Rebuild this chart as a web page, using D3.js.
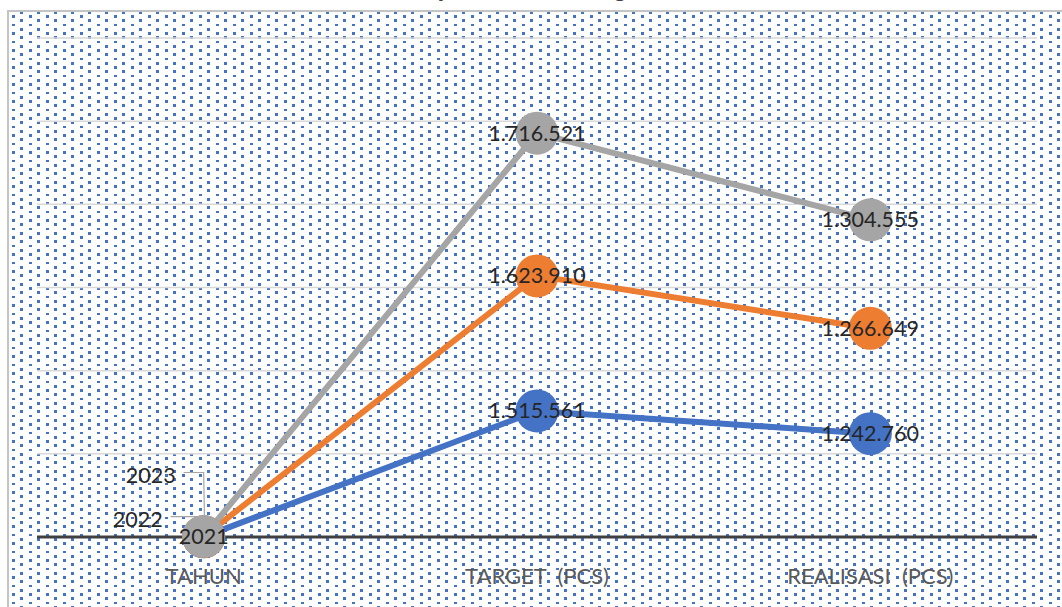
<!DOCTYPE html>
<html lang="id">
<head>
    <meta charset="UTF-8">
    <title>Penjualan Tahun, Target dan Realisasi</title>
    <script src="https://d3js.org/d3.v7.min.js"></script>
    <style>
        body { margin: 0; background: #fff; }
        .cat-label { font-family: Lato, "Noto Sans", sans-serif; font-size: 22px; fill: #595959; }
        .data-label { font-family: Lato, "Noto Sans", sans-serif; font-size: 21.5px; fill: #262626; }
        .title { font-family: Lato, "Noto Sans", sans-serif; font-size: 24px; fill: #404040; }
    </style>
</head>
<body>
<div id="chart"></div>
<script>
    // data (stacked line chart)
    const categories = ["TAHUN", "TARGET\u00a0 (PCS)", "REALISASI\u00a0 (PCS)"];
    const seriesNames = ["2021", "2022", "2023"];
    const values2021 = [2021, 1515561, 1242760];
    const values2022 = [2022, 1623910, 1266649];
    const values2023 = [2023, 1716521, 1304555];
    const yTicks = [0, 1000000, 2000000, 3000000, 4000000, 5000000, 6000000];

    const colors = ["#4472c4", "#ed7d31", "#a5a5a5"];

    const width = 1062, height = 607;
    const plot = { left: 37, right: 1037, top: 38, bottom: 537 };

    const svg = d3.select("#chart").append("svg")
        .attr("width", width)
        .attr("height", height);

    // dotted background pattern
    const defs = svg.append("defs");
    const pat = defs.append("pattern")
        .attr("id", "dots")
        .attr("patternUnits", "userSpaceOnUse")
        .attr("x", 12).attr("y", 15)
        .attr("width", 17).attr("height", 17);
    const dot = (px, py, w, h) => pat.append("rect")
        .attr("x", px).attr("y", py).attr("width", w).attr("height", h)
        .attr("fill", "#4472c4").attr("shape-rendering", "crispEdges");
    dot(0, 0, 3, 3);
    dot(0, 9, 3, 2);
    dot(8, 4, 3, 3);
    dot(8, 13, 3, 3);

    svg.append("rect")
        .attr("x", 8).attr("y", 11)
        .attr("width", width + 10).attr("height", height + 10)
        .attr("fill", "#fff");
    svg.append("rect")
        .attr("x", 8).attr("y", 11)
        .attr("width", width + 10).attr("height", height + 10)
        .attr("fill", "url(#dots)")
        .attr("stroke", "#c4c4c4")
        .attr("stroke-width", 2);

    // title (mostly above the visible area, as in the source)
    const title = svg.append("text")
        .attr("class", "title")
        .attr("y", -3)
        .text("Grafik Penjualan Tahun, Target dan Realisasi");
    const jPos = title.node().getStartPositionOfChar(title.text().indexOf("j")).x;
    title.attr("x", 440 - jPos);

    // scales
    const x = d3.scaleBand()
        .domain(categories)
        .range([plot.left, plot.right])
        .padding(0);

    const y = d3.scaleLinear()
        .domain([0, 6000000])
        .range([plot.bottom, plot.top]);

    const cx = c => x(c) + x.bandwidth() / 2;

    // gridlines
    svg.append("g")
        .selectAll("line")
        .data(yTicks.slice(1))
        .join("line")
        .attr("x1", plot.left).attr("x2", plot.right)
        .attr("y1", d => y(d)).attr("y2", d => y(d))
        .attr("stroke", "#d9d9d9")
        .attr("stroke-width", 1.5);

    // stack the series
    const table = categories.map((c, i) => ({
        cat: c,
        "2021": values2021[i],
        "2022": values2022[i],
        "2023": values2023[i]
    }));
    const stacked = d3.stack().keys(seriesNames)(table);

    // category axis line
    svg.append("line")
        .attr("x1", plot.left).attr("x2", plot.right)
        .attr("y1", y(0)).attr("y2", y(0))
        .attr("stroke", "#404040")
        .attr("stroke-width", 3);

    const line = d3.line()
        .x(d => cx(d.data.cat))
        .y(d => y(d[1]));

    stacked.forEach((s, i) => {
        svg.append("path")
            .datum(s)
            .attr("fill", "none")
            .attr("stroke", colors[i])
            .attr("stroke-width", 6)
            .attr("stroke-linecap", "round")
            .attr("d", line);
    });
    stacked.forEach((s, i) => {
        svg.append("g")
            .selectAll("circle")
            .data(s)
            .join("circle")
            .attr("cx", d => cx(d.data.cat))
            .attr("cy", d => y(d[1]))
            .attr("r", 21.5)
            .attr("fill", colors[i]);
    });

    // category labels
    svg.append("g")
        .selectAll("text")
        .data(categories)
        .join("text")
        .attr("class", "cat-label")
        .attr("x", d => cx(d))
        .attr("y", 584)
        .attr("text-anchor", "middle")
        .text(d => d);

    // data labels
    const fmt = d3.formatLocale({ decimal: ",", thousands: ".", grouping: [3], currency: ["", ""] }).format(",");
    const labelText = v => v < 10000 ? String(v) : fmt(v);

    // moved labels at TAHUN (with leader lines)
    const labelOffsets = { "2022": [-66, -17], "2023": [-53, -61] };

    const labels = svg.append("g");
    const leaders = svg.append("g");
    stacked.forEach((s, i) => {
        s.forEach((d, j) => {
            const px = cx(d.data.cat), py = y(d[1]);
            const off = (j === 0 && labelOffsets[s.key]) ? labelOffsets[s.key] : [0, 0];
            const t = labels.append("text")
                .attr("class", "data-label")
                .attr("x", px + off[0])
                .attr("y", py + off[1])
                .attr("dy", "0.35em")
                .attr("text-anchor", "middle")
                .text(labelText(d.data[s.key]));
            if (off[0] !== 0) {
                const bb = t.node().getBBox();
                const ly = py + off[1] - 3;
                leaders.append("path")
                    .attr("d", `M${bb.x + bb.width + 8},${ly}H${px - 6 + i * 3}L${px - 3 + i * 2},${py - 7}`)
                    .attr("fill", "none")
                    .attr("stroke", "#a6a6a6")
                    .attr("stroke-width", 1.2);
            }
        });
    });
</script>
</body>
</html>
